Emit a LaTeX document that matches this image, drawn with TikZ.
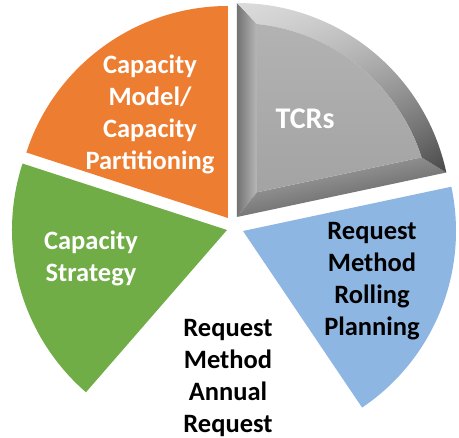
\documentclass[tikz,border=0pt]{standalone}
\usepackage{fontspec}
\setmainfont{Carlito}
\usetikzlibrary{shadings}
\definecolor{sliceorange}{HTML}{ED7D31}
\definecolor{slicegreen}{HTML}{70AD47}
\definecolor{sliceblue}{HTML}{8EB6E2}
\begin{document}
\begin{tikzpicture}[x=1pt,y=1pt,
  slicetext/.style={align=center,inner sep=0pt,
    font=\bfseries\fontsize{26.5}{32}\selectfont}]
\useasboundingbox (-234,-212) rectangle (225,226);

% slices, each pulled a little out of the centre
\fill[sliceorange] (-6,8) -- ++(90:212) arc[start angle=90,end angle=162,radius=212] -- cycle;
\fill[slicegreen] (-7,-4) -- ++(162:215) arc[start angle=162,end angle=229,radius=215] -- cycle;
\fill[sliceblue] (9,-5) -- ++(304:213) arc[start angle=304,end angle=372,radius=213] -- cycle;

% TCRs slice, bevelled: left, bottom and round edge, then the face
\begin{scope}[shift={(3,9)}]
\shade[left color=black!55,right color=black!28]
  (0,0) -- (90:214) -- (84.1:194) -- (51:31.8) -- cycle;
\shade[top color=black!32,bottom color=black!68,shading angle=12]
  (0,0) -- (12:214) -- (17.9:194) -- (51:31.8) -- cycle;
\shade[upper left=black!14,upper right=black!22,lower left=black!30,lower right=black!72]
  (90:214) arc[start angle=90,end angle=12,radius=214] -- (17.9:194)
  arc[start angle=17.9,end angle=84.1,radius=194] -- cycle;
\shade[top color=black!30,bottom color=black!36]
  (51:31.8) -- (84.1:194) arc[start angle=84.1,end angle=17.9,radius=194] -- cycle;
\end{scope}

\node[slicetext,white] (partition) at (-84,112) {Capacity\\Model/\\Capacity\\Partitioning};
\node[slicetext,white,font=\bfseries\fontsize{30}{36}\selectfont] (tcrs) at (71,107) {TCRs};
\node[slicetext,white] (strategy) at (-143,-32) {Capacity\\Strategy};
\node[slicetext] (rolling) at (138,-55) {Request\\Method\\Rolling\\Planning};
\node[slicetext] (annual) at (-6,-152) {Request\\Method\\Annual\\Request};
\end{tikzpicture}
\end{document}
